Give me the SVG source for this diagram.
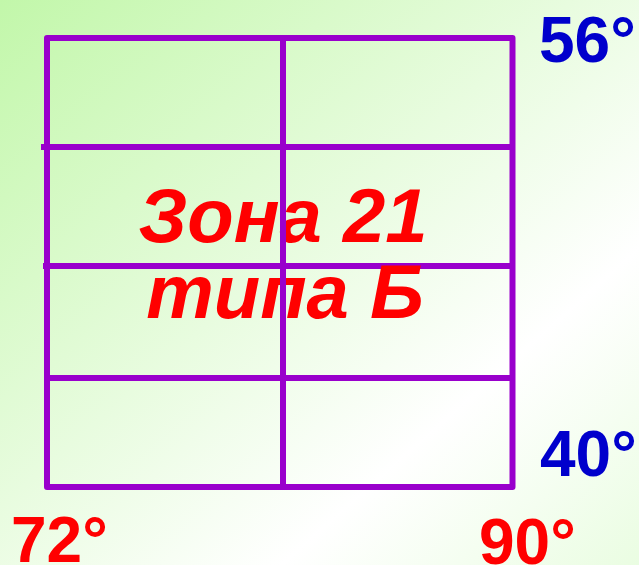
<svg xmlns="http://www.w3.org/2000/svg" width="639" height="565" viewBox="0 0 639 565">
<defs>
<linearGradient id="bg" x1="0" y1="0" x2="1" y2="1">
<stop offset="0" stop-color="#c2f7aa"/>
<stop offset="0.72" stop-color="#ffffff"/>
<stop offset="1" stop-color="#eafde2"/>
</linearGradient>
</defs>
<style>
.grid{stroke:#9900cc;stroke-width:6;fill:none;stroke-linejoin:round}
.deg{font-family:"Liberation Sans",Arial,sans-serif;font-weight:bold;font-size:64px}
.blue{fill:#0000cc}
.red{fill:#ff0000}
.zone{font-family:"Liberation Sans",Arial,sans-serif;font-weight:bold;font-style:italic;font-size:76px;fill:#ff0000;text-anchor:middle}
</style>
<rect x="0" y="0" width="639" height="565" fill="url(#bg)"/>
<g id="grid">
<rect class="grid" x="47" y="38" width="465.5" height="449"/>
<line class="grid" x1="41" y1="147" x2="512" y2="147"/>
<line class="grid" x1="43" y1="266" x2="512" y2="266"/>
<line class="grid" x1="47" y1="378" x2="512" y2="378"/>
</g>
<g id="zone-label">
<text class="zone" x="283" y="242">Зона 21</text>
<text class="zone" x="285" y="318">типа Б</text>
</g>
<g id="divider">
<line class="grid" x1="283" y1="38" x2="283" y2="487"/>
</g>
<g id="labels">
<text class="deg blue" x="539" y="62">56°</text>
<text class="deg blue" x="540" y="476">40°</text>
<text class="deg red" x="11" y="562">72°</text>
<text class="deg red" x="479" y="564">90°</text>
</g>
</svg>
